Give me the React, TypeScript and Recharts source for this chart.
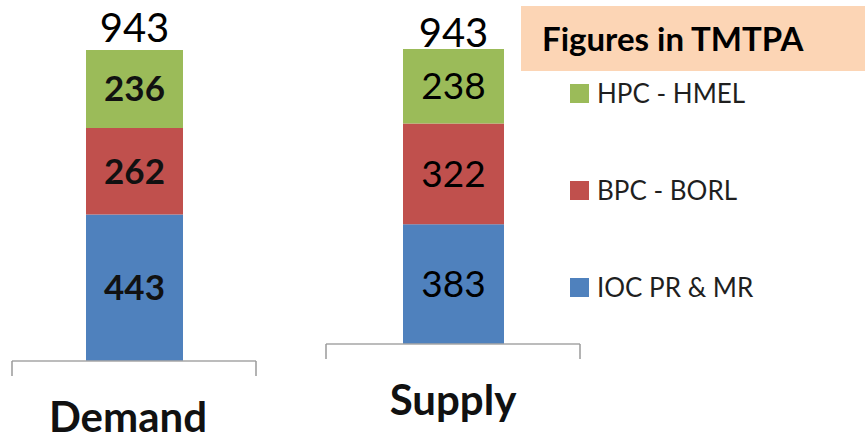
import React from "react";
import { BarChart, Bar, XAxis, YAxis, LabelList, Legend } from "recharts";

const categories = ["Demand", "Supply"];
const iocPrMr = [443, 383];
const bpcBorl = [262, 322];
const hpcHmel = [236, 238];
const totals = [943, 943];

const seriesNames = ["IOC PR & MR", "BPC - BORL", "HPC - HMEL"];
const seriesColors = ["#4F81BD", "#C0504D", "#9BBB59"];
const unitsNote = "Figures in TMTPA";

const FONT = "Lato, 'Open Sans', sans-serif";

const rows = categories.map((name, i) => ({
  name,
  ioc: iocPrMr[i],
  bpc: bpcBorl[i],
  hpc: hpcHmel[i],
  total: totals[i],
}));

// Excel-style category axis: ticks at the band edges, label below
function CategoryTick(props: any) {
  const { x, y, payload, half, dx } = props;
  return (
    <g>
      <line x1={x - half} y1={y} x2={x - half} y2={y + 15} stroke="#9a9a9a" strokeWidth={1.5} />
      <line x1={x + half} y1={y} x2={x + half} y2={y + 15} stroke="#9a9a9a" strokeWidth={1.5} />
      <text
        x={x + dx}
        y={y + 71}
        textAnchor="middle"
        fontFamily={FONT}
        fontWeight={700}
        fontSize={42}
        fill="#111"
      >
        {payload.value}
      </text>
    </g>
  );
}

function LegendBox() {
  const items = [2, 1, 0];
  return (
    <div style={{ width: 344, fontFamily: FONT }}>
      <div
        style={{
          height: 65,
          lineHeight: "65px",
          background: "#FCD5B5",
          paddingLeft: 21,
          fontWeight: 700,
          fontSize: 33,
          color: "#000",
        }}
      >
        {unitsNote}
      </div>
      <div style={{ display: "flex", flexDirection: "column", gap: 67, marginTop: 7, paddingLeft: 49 }}>
        {items.map((k) => (
          <div key={k} style={{ display: "flex", alignItems: "center", height: 30 }}>
            <span style={{ width: 19, height: 19, background: seriesColors[k], display: "inline-block" }} />
            <span style={{ marginLeft: 8, fontSize: 26, color: "#1f1f1f", lineHeight: "30px" }}>
              {seriesNames[k]}
            </span>
          </div>
        ))}
      </div>
    </div>
  );
}

type StackProps = {
  index: number;
  width: number;
  margin: { top: number; left: number; right: number };
  axisHeight: number;
  barSize: number;
  half: number;
  labelDx: number;
  totalOffset: number;
  segmentBold: boolean;
  withLegend?: boolean;
};

function StackChart(p: StackProps) {
  const data = [rows[p.index]];
  const segLabel = {
    fontFamily: FONT,
    fontSize: p.segmentBold ? 35 : 37,
    fontWeight: p.segmentBold ? 700 : 400,
    fill: p.segmentBold ? "#111" : "#000",
  };
  return (
    <BarChart
      width={p.width}
      height={441}
      data={data}
      margin={{ top: p.margin.top, right: p.margin.right, bottom: 0, left: p.margin.left }}
    >
      <XAxis
        dataKey="name"
        height={p.axisHeight}
        axisLine={{ stroke: "#a6a6a6", strokeWidth: 1.5 }}
        tickLine={false}
        tickSize={0}
        tickMargin={0}
        interval={0}
        tick={(t: any) => <CategoryTick {...t} half={p.half} dx={p.labelDx} />}
      />
      <YAxis hide domain={[0, "dataMax"]} />
      <Bar dataKey="ioc" name={seriesNames[0]} stackId="a" fill={seriesColors[0]} barSize={p.barSize} isAnimationActive={false}>
        <LabelList dataKey="ioc" position="center" style={segLabel} />
      </Bar>
      <Bar dataKey="bpc" name={seriesNames[1]} stackId="a" fill={seriesColors[1]} barSize={p.barSize} isAnimationActive={false}>
        <LabelList dataKey="bpc" position="center" style={segLabel} />
      </Bar>
      <Bar dataKey="hpc" name={seriesNames[2]} stackId="a" fill={seriesColors[2]} barSize={p.barSize} isAnimationActive={false}>
        <LabelList dataKey="hpc" position="center" style={segLabel} />
        <LabelList
          dataKey="total"
          position="top"
          offset={p.totalOffset}
          style={{ fontFamily: FONT, fontSize: 40, fontWeight: 400, fill: "#000" }}
        />
      </Bar>
      {p.withLegend && (
        <Legend
          layout="vertical"
          align="center"
          verticalAlign="middle"
          wrapperStyle={{ left: 221, top: 6, width: 344 }}
          content={() => <LegendBox />}
        />
      )}
    </BarChart>
  );
}

export default function App() {
  return (
    <div style={{ position: "fixed", left: 0, top: 0, width: 865, height: 441, background: "#fff", overflow: "hidden" }}>
      <div style={{ position: "absolute", left: 0, top: 0 }}>
        <StackChart
          index={0}
          width={270}
          margin={{ top: 50, left: 12, right: 14 }}
          axisHeight={80}
          barSize={97}
          half={122}
          labelDx={-6}
          totalOffset={8}
          segmentBold
        />
      </div>
      <div style={{ position: "absolute", left: 300, top: 0 }}>
        <StackChart
          index={1}
          width={565}
          margin={{ top: 49, left: 26, right: 285 }}
          axisHeight={97}
          barSize={101}
          half={127}
          labelDx={0}
          totalOffset={2}
          segmentBold={false}
          withLegend
        />
      </div>
    </div>
  );
}
